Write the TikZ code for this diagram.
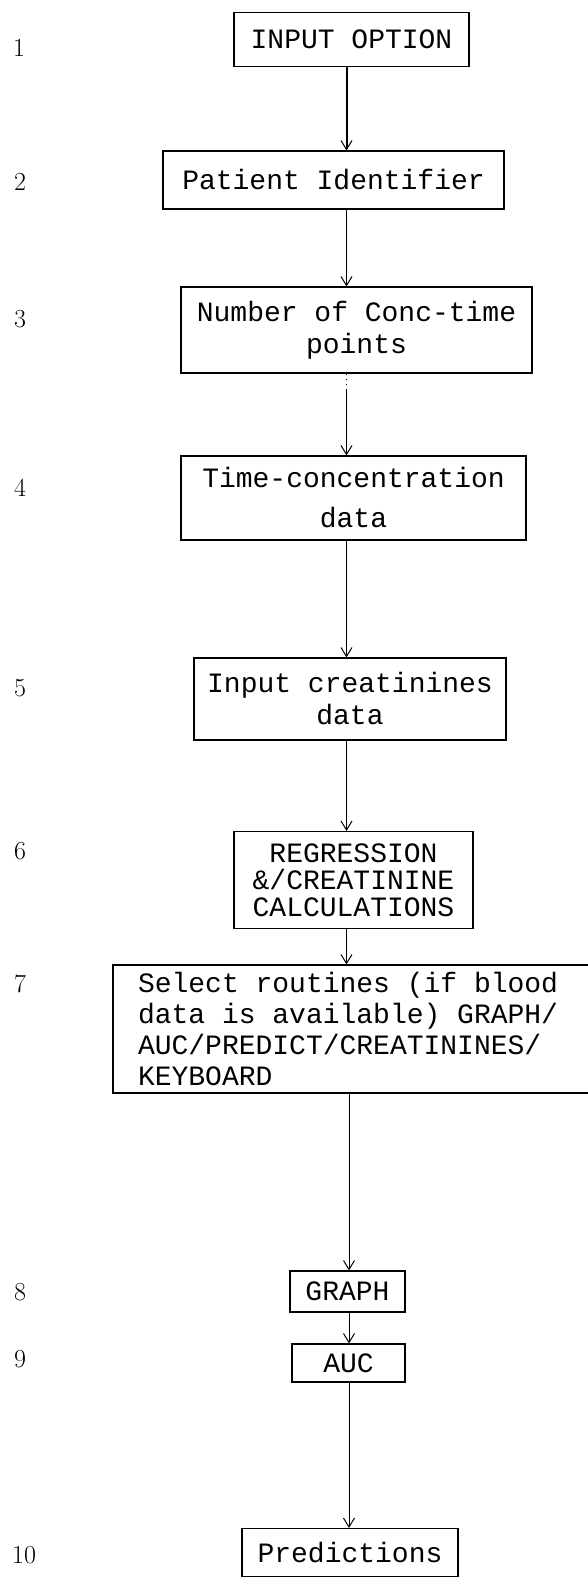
\documentclass[tikz,border=0pt]{standalone}
\usepackage{fontspec}
\setmonofont{Liberation Mono}
\usetikzlibrary{arrows.meta}
\begin{document}
\begin{tikzpicture}[x=1pt,y=-1pt,
  box/.style={draw, line width=1.1pt, inner sep=0pt, align=center,
              font=\ttfamily\fontsize{28}{32}\selectfont},
  num/.style={font=\fontsize{26}{26}\selectfont},
  flow/.style={-{Straight Barb[length=9pt,width=11pt,line width=1pt]}, line width=0.9pt},
  heavyflow/.style={flow, line width=2pt}]
\useasboundingbox (0,0) rectangle (588,1579);
\fill[white] (0,0) rectangle (588,1579);

% step numbers in the left margin
\node[num] (n1)  at (19,48)   {1};
\node[num] (n2)  at (20,182)  {2};
\node[num] (n3)  at (20,319)  {3};
\node[num] (n4)  at (20,488)  {4};
\node[num] (n5)  at (20,688)  {5};
\node[num] (n6)  at (20,851)  {6};
\node[num] (n7)  at (20,984)  {7};
\node[num] (n8)  at (20,1292) {8};
\node[num] (n9)  at (20,1359) {9};
\node[num] (n10) at (24,1555) {10};

% flow chart steps
\node[box, minimum width=235pt, minimum height=54pt] (b1) at (351.5,39.5) {INPUT OPTION};
\node[box, minimum width=341pt, minimum height=58pt] (b2) at (333.5,180) {Patient Identifier};
\node[box, minimum width=351pt, minimum height=86pt] (b3) at (356.5,330) {Number of Conc-time\\points};
\node[box, minimum width=345pt, minimum height=84pt,
      font=\ttfamily\fontsize{28}{40}\selectfont] (b4) at (353.5,498) {Time-concentration\\data};
\node[box, minimum width=312pt, minimum height=82pt] (b5) at (350,699) {Input creatinines\\data};
\node[box, minimum width=239pt, minimum height=97pt,
      font=\ttfamily\fontsize{28}{27}\selectfont] (b6) at (353.5,880) {REGRESSION\\\&/CREATININE\\CALCULATIONS};
\node[box, align=flush left, text width=448pt, inner xsep=25pt, minimum height=128pt,
      font=\ttfamily\fontsize{28}{31}\selectfont] (b7) at (362,1029)
      {Select routines (if blood\\data is available) GRAPH/\\AUC/PREDICT/CREATININES/\\KEYBOARD};
\node[box, minimum width=115pt, minimum height=41pt] (b8) at (347.5,1291.5) {GRAPH};
\node[box, minimum width=113pt, minimum height=38pt] (b9) at (348.5,1363) {AUC};
\node[box, minimum width=216pt, minimum height=48pt] (b10) at (350,1552.5) {Predictions};

% vertical guide lines for the connectors
\coordinate (ax) at (346.5,0);
\coordinate (bx) at (349,0);

\draw[heavyflow] (b1.south -| ax) -- (b2.north -| ax);
\draw[flow] (b2.south -| ax) -- (b3.north -| ax);
\draw[flow, dash pattern=on 1pt off 4pt on 1pt off 4pt on 1pt off 4pt on 300pt]
  (b3.south -| ax) -- (b4.north -| ax);
\draw[flow] (b4.south -| ax) -- (b5.north -| ax);
\draw[flow] (b5.south -| ax) -- (b6.north -| ax);
\draw[flow] (b6.south -| ax) -- (b7.north -| ax);
\draw[flow] (b7.south -| bx) -- (b8.north -| bx);
\draw[flow] (b8.south -| bx) -- (b9.north -| bx);
\draw[flow] (b9.south -| bx) -- (b10.north -| bx);
\end{tikzpicture}
\end{document}
